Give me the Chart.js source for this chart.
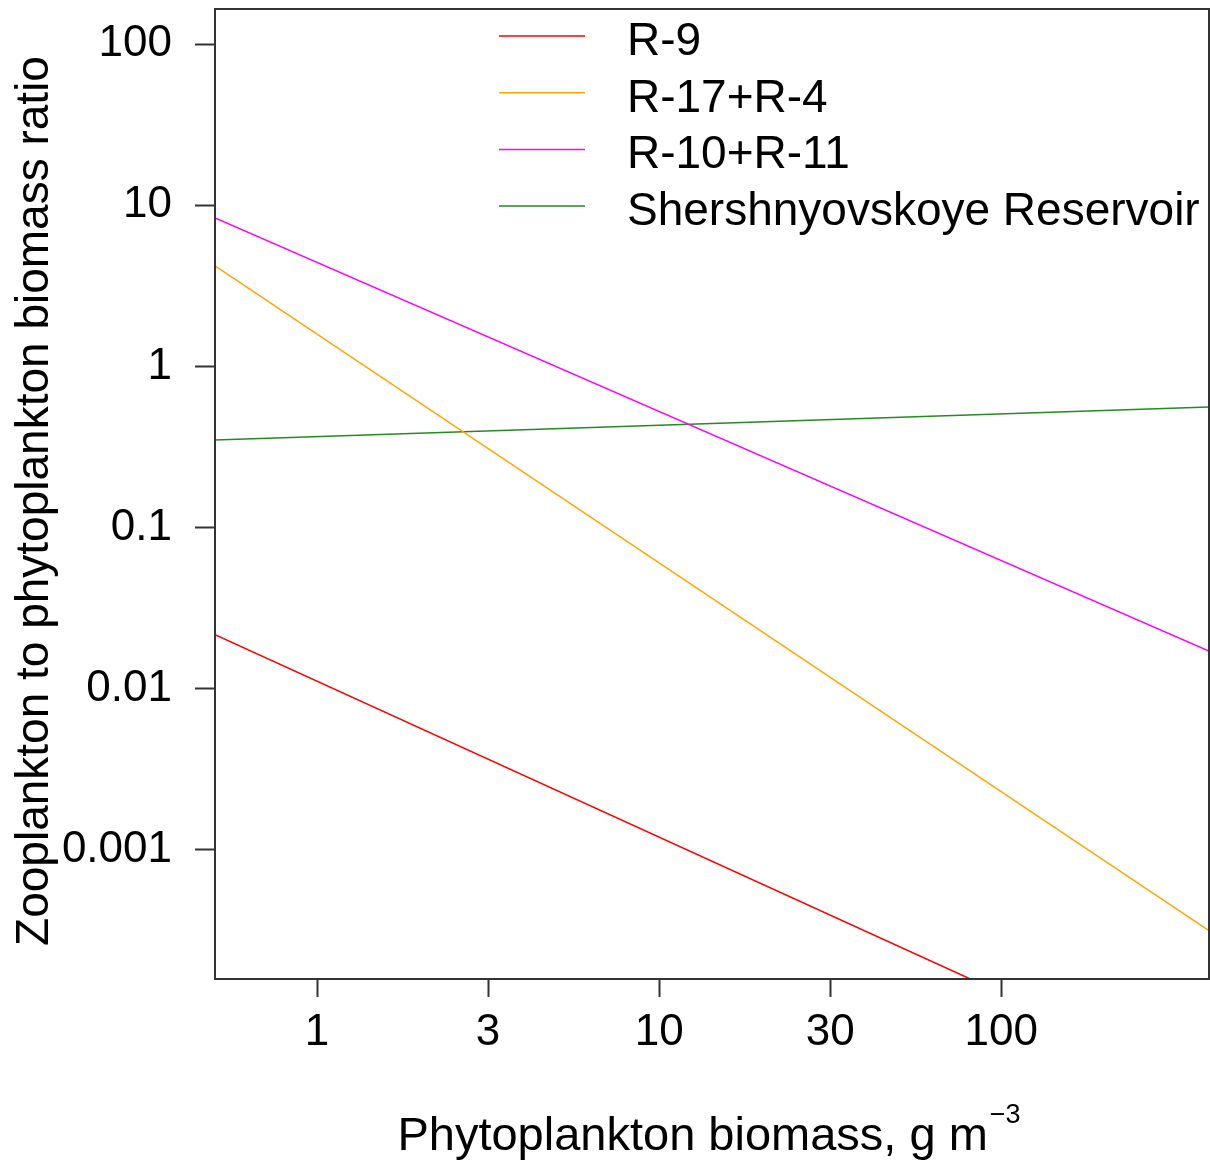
<!DOCTYPE html>
<html>
<head>
<meta charset="utf-8">
<script src="https://cdn.jsdelivr.net/npm/chart.js@4/dist/chart.umd.min.js"></script>
<style>
    html, body { margin: 0; padding: 0; background: #fff; }
    #wrap { width: 1210px; height: 1164px; }
</style>
</head>
<body>
<div id="wrap"><canvas id="plot" width="1210" height="1164"></canvas></div>
<script>
// ============================================================
// Zooplankton / phytoplankton ratio vs phytoplankton biomass (log-log)
// ============================================================

// Series — end points of each fitted line
const seriesNames  = ['R-9', 'R-17+R-4', 'R-10+R-11', 'Shershnyovskoye Reservoir'];
const seriesColors = ['#ff0000', '#ffa500', '#ff00ff', '#228b22'];

const r9X  = [0.503, 81.2];
const r9Y  = [0.0216, 0.000158];
const r17X = [0.503, 405];
const r17Y = [4.2, 0.000315];
const r10X = [0.503, 405];
const r10Y = [8.34, 0.0171];
const shX  = [0.503, 405];
const shY  = [0.349, 0.56];

// Axis ranges and ticks (x ticks sit at half decades, labelled 3 and 30)
const xRange      = [0.503, 405];
const yRange      = [0.000158, 165];
const xTicks      = [1, 3.162, 10, 31.62, 100];
const xTickLabels = ['1', '3', '10', '30', '100'];
const yTicks      = [0.001, 0.01, 0.1, 1, 10, 100];
const yTickLabels = ['0.001', '0.01', '0.1', '1', '10', '100'];

const xTitle    = 'Phytoplankton biomass, g m';
const xTitleSup = '\u22123';
const yTitle    = 'Zooplankton to phytoplankton biomass ratio';

const FONT = '"Liberation Sans", Arial, sans-serif';
const INK  = '#333333';

function toPoints(xs, ys) {
    return xs.map((x, i) => ({ x: x, y: ys[i] }));
}

const seriesData = [
    toPoints(r9X, r9Y),
    toPoints(r17X, r17Y),
    toPoints(r10X, r10Y),
    toPoints(shX, shY)
];

// Box around the plot, R style
const boxPlugin = {
    id: 'box',
    afterDraw(chart) {
        const { ctx, chartArea: a } = chart;
        ctx.save();
        ctx.strokeStyle = INK;
        ctx.lineWidth = 2;
        ctx.strokeRect(a.left, a.top, a.right - a.left, a.bottom - a.top);
        ctx.restore();
    }
};

// Legend with no frame, top of the plot
const legendPlugin = {
    id: 'rLegend',
    afterDraw(chart) {
        const ctx = chart.ctx;
        ctx.save();
        ctx.font = '46px ' + FONT;
        ctx.fillStyle = '#000';
        ctx.textAlign = 'left';
        ctx.textBaseline = 'alphabetic';
        chart.data.datasets.forEach((ds, i) => {
            const y = 36 + i * 56.7;
            ctx.strokeStyle = ds.borderColor;
            ctx.lineWidth = 1.5;
            ctx.beginPath();
            ctx.moveTo(499, y);
            ctx.lineTo(585, y);
            ctx.stroke();
            ctx.fillText(ds.label, 627, y + 19);
        });
        ctx.restore();
    }
};

// Axis titles (x title carries a superscript)
const titlesPlugin = {
    id: 'titles',
    afterDraw(chart) {
        const { ctx, chartArea: a } = chart;
        ctx.save();
        ctx.fillStyle = '#000';
        ctx.textBaseline = 'alphabetic';

        ctx.font = '47px ' + FONT;
        const wMain = ctx.measureText(xTitle).width;
        ctx.font = '27px ' + FONT;
        const wSup = ctx.measureText(xTitleSup).width;
        const x0 = (a.left + a.right) / 2 - (wMain + wSup + 2) / 2 - 3;
        ctx.textAlign = 'left';
        ctx.font = '47px ' + FONT;
        ctx.fillText(xTitle, x0, 1150);
        ctx.font = '27px ' + FONT;
        ctx.fillText(xTitleSup, x0 + wMain + 2, 1123);

        ctx.translate(48, 501);
        ctx.rotate(-Math.PI / 2);
        ctx.textAlign = 'center';
        ctx.font = '46px ' + FONT;
        ctx.fillText(yTitle, 0, 0);
        ctx.restore();
    }
};

const tickFont = { family: FONT, size: 44 };

new Chart(document.getElementById('plot'), {
    type: 'line',
    data: {
        datasets: seriesNames.map((name, i) => ({
            label: name,
            data: seriesData[i],
            borderColor: seriesColors[i],
            backgroundColor: seriesColors[i],
            borderWidth: 1.5,
            pointRadius: 0,
            tension: 0,
            fill: false
        }))
    },
    options: {
        responsive: false,
        animation: false,
        devicePixelRatio: 1,
        layout: { padding: { top: 9, right: 1, left: 0, bottom: 0 } },
        plugins: {
            legend: { display: false },
            tooltip: { enabled: false }
        },
        scales: {
            x: {
                type: 'logarithmic',
                position: 'bottom',
                min: xRange[0],
                max: xRange[1],
                afterBuildTicks: s => { s.ticks = xTicks.map(v => ({ value: v })); },
                afterFit: s => { s.height = 185; s.paddingLeft = 0; s.paddingRight = 0; },
                ticks: {
                    autoSkip: false,
                    maxRotation: 0,
                    padding: 9,
                    color: '#000',
                    font: tickFont,
                    callback: (v, i) => xTickLabels[i]
                },
                grid: { drawOnChartArea: false, tickLength: 18, tickColor: INK, tickWidth: 2 },
                border: { display: false }
            },
            y: {
                type: 'logarithmic',
                position: 'left',
                min: yRange[0],
                max: yRange[1],
                afterBuildTicks: s => { s.ticks = yTicks.map(v => ({ value: v })); },
                afterFit: s => { s.width = 215; s.paddingTop = 0; s.paddingBottom = 0; },
                ticks: {
                    autoSkip: false,
                    padding: 23,
                    color: '#000',
                    font: tickFont,
                    callback: (v, i) => yTickLabels[i]
                },
                grid: { drawOnChartArea: false, tickLength: 20, tickColor: INK, tickWidth: 2 },
                border: { display: false }
            }
        }
    },
    plugins: [boxPlugin, legendPlugin, titlesPlugin]
});
</script>
</body>
</html>
